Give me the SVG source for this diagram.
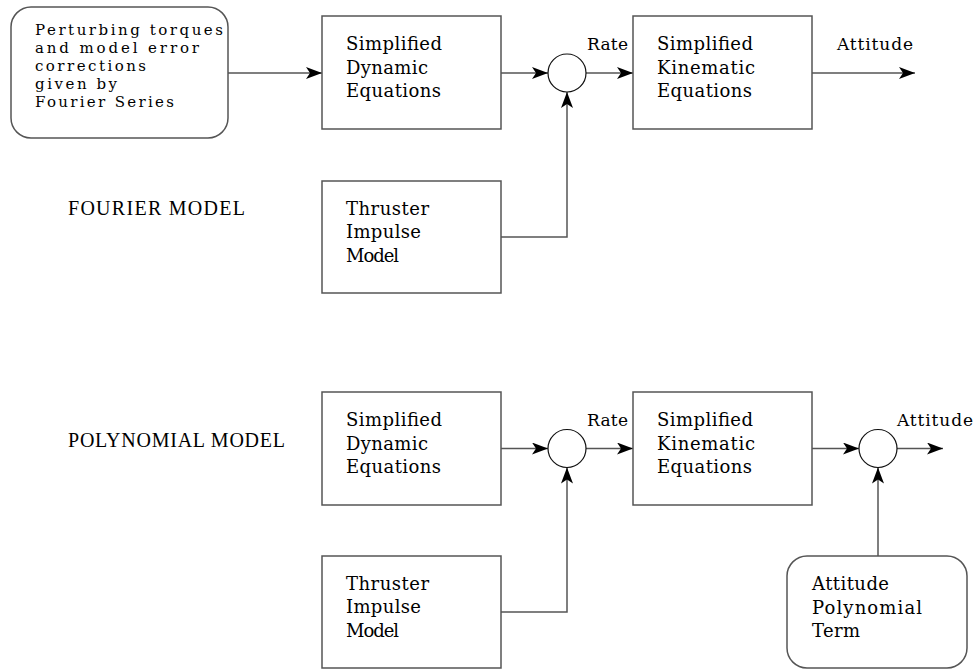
<svg xmlns="http://www.w3.org/2000/svg" width="976" height="669" viewBox="0 0 976 669">
<style>
.box{fill:#fff;stroke:#555;stroke-width:1.5}
.sum{fill:#fff;stroke:#111;stroke-width:1.2}
.t{font-family:"DejaVu Serif","Liberation Serif",serif;font-size:18px;fill:#000}
.ts{font-family:"DejaVu Serif","Liberation Serif",serif;font-size:15px;fill:#000}
.lbl{font-family:"DejaVu Serif","Liberation Serif",serif;font-size:17px;fill:#000}
.m{font-family:"Liberation Serif","DejaVu Serif",serif;font-size:20px;fill:#000}
.c{fill:none;stroke:#555;stroke-width:1.5}
</style>
<defs>
<marker id="ah" markerUnits="userSpaceOnUse" viewBox="0 0 16 12" markerWidth="16" markerHeight="12" refX="16" refY="6" orient="auto">
<path d="M0,0 L16,6 L0,12 L4,6 Z" fill="#000"/>
</marker>
</defs>
<text class="m" x="68" y="215" textLength="177" lengthAdjust="spacing">FOURIER MODEL</text>
<text class="m" x="68" y="447" textLength="217" lengthAdjust="spacing">POLYNOMIAL MODEL</text>
<g id="connectors">
<path class="c" d="M228,73 H322" marker-end="url(#ah)"/>
<path class="c" d="M501,73 H548" marker-end="url(#ah)"/>
<path class="c" d="M586,73 H633" marker-end="url(#ah)"/>
<path class="c" d="M812,73 H915" marker-end="url(#ah)"/>
<path class="c" d="M501,237 H567 V92" marker-end="url(#ah)"/>
<path class="c" d="M501,448.5 H548" marker-end="url(#ah)"/>
<path class="c" d="M586,448.5 H633" marker-end="url(#ah)"/>
<path class="c" d="M812,448.5 H859" marker-end="url(#ah)"/>
<path class="c" d="M897,448.5 H943" marker-end="url(#ah)"/>
<path class="c" d="M501,612 H567 V467.5" marker-end="url(#ah)"/>
<path class="c" d="M878,556 V467.5" marker-end="url(#ah)"/>
<text class="lbl" x="587" y="50" textLength="41" lengthAdjust="spacing">Rate</text>
<text class="lbl" x="837" y="50" textLength="76" lengthAdjust="spacing">Attitude</text>
<text class="lbl" x="587" y="426" textLength="41" lengthAdjust="spacing">Rate</text>
<text class="lbl" x="897" y="426" textLength="76" lengthAdjust="spacing">Attitude</text>
</g>
<g id="fourier-input">
<rect class="box" x="11" y="7" width="217" height="131" rx="20"/>
<text class="ts" x="35" y="35" textLength="188" lengthAdjust="spacing">Perturbing torques</text>
<text class="ts" x="35" y="53" textLength="164" lengthAdjust="spacing">and model error</text>
<text class="ts" x="35" y="71" textLength="111" lengthAdjust="spacing">corrections</text>
<text class="ts" x="35" y="89" textLength="82" lengthAdjust="spacing">given by</text>
<text class="ts" x="35" y="107" textLength="139" lengthAdjust="spacing">Fourier Series</text>
</g>
<g id="dyn1">
<rect class="box" x="322" y="16" width="179" height="113"/>
<text class="t" x="346" y="50" textLength="96" lengthAdjust="spacing">Simplified</text>
<text class="t" x="346" y="74" textLength="82" lengthAdjust="spacing">Dynamic</text>
<text class="t" x="346" y="97" textLength="95" lengthAdjust="spacing">Equations</text>
</g>
<g id="sum1"><circle class="sum" cx="567" cy="73" r="19"/></g>
<g id="kin1">
<rect class="box" x="633" y="16" width="179" height="113"/>
<text class="t" x="657" y="50" textLength="96" lengthAdjust="spacing">Simplified</text>
<text class="t" x="657" y="74" textLength="98" lengthAdjust="spacing">Kinematic</text>
<text class="t" x="657" y="97" textLength="95" lengthAdjust="spacing">Equations</text>
</g>
<g id="thr1">
<rect class="box" x="322" y="181" width="179" height="112"/>
<text class="t" x="346" y="215" textLength="83" lengthAdjust="spacing">Thruster</text>
<text class="t" x="346" y="238" textLength="75" lengthAdjust="spacing">Impulse</text>
<text class="t" x="346" y="262" textLength="53" lengthAdjust="spacing">Model</text>
</g>
<g id="dyn2">
<rect class="box" x="322" y="392" width="179" height="113"/>
<text class="t" x="346" y="426" textLength="96" lengthAdjust="spacing">Simplified</text>
<text class="t" x="346" y="450" textLength="82" lengthAdjust="spacing">Dynamic</text>
<text class="t" x="346" y="473" textLength="95" lengthAdjust="spacing">Equations</text>
</g>
<g id="sum2"><circle class="sum" cx="567" cy="448.5" r="19"/></g>
<g id="kin2">
<rect class="box" x="633" y="392" width="179" height="113"/>
<text class="t" x="657" y="426" textLength="96" lengthAdjust="spacing">Simplified</text>
<text class="t" x="657" y="450" textLength="98" lengthAdjust="spacing">Kinematic</text>
<text class="t" x="657" y="473" textLength="95" lengthAdjust="spacing">Equations</text>
</g>
<g id="sum3"><circle class="sum" cx="878" cy="448.5" r="19"/></g>
<g id="thr2">
<rect class="box" x="322" y="556" width="179" height="112"/>
<text class="t" x="346" y="590" textLength="83" lengthAdjust="spacing">Thruster</text>
<text class="t" x="346" y="613" textLength="75" lengthAdjust="spacing">Impulse</text>
<text class="t" x="346" y="637" textLength="53" lengthAdjust="spacing">Model</text>
</g>
<g id="poly">
<rect class="box" x="787" y="556" width="180" height="112" rx="20"/>
<text class="t" x="812" y="590" textLength="77" lengthAdjust="spacing">Attitude</text>
<text class="t" x="812" y="614" textLength="110" lengthAdjust="spacing">Polynomial</text>
<text class="t" x="812" y="637" textLength="48" lengthAdjust="spacing">Term</text>
</g>
</svg>
